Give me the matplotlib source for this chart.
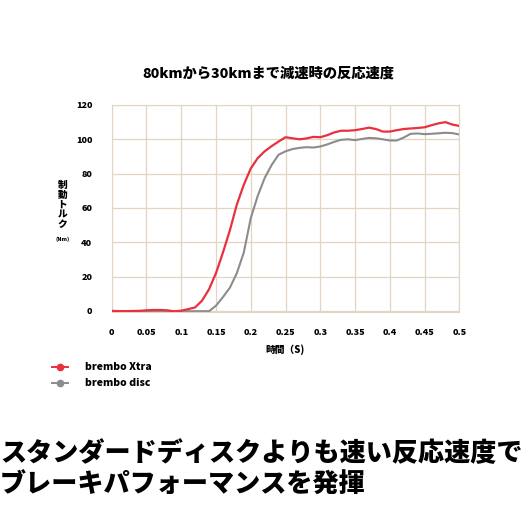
import matplotlib
matplotlib.use('Agg')
import matplotlib.pyplot as plt

plt.rcParams['font.family'] = ['Noto Sans CJK JP', 'DejaVu Sans']

# 時間 (s)
t = [0.0, 0.01, 0.02, 0.03, 0.04, 0.05, 0.06, 0.07, 0.08, 0.09,
     0.10, 0.11, 0.12, 0.13, 0.14, 0.15, 0.16, 0.17, 0.18, 0.19,
     0.20, 0.21, 0.22, 0.23, 0.24, 0.25, 0.26, 0.27, 0.28, 0.29,
     0.30, 0.31, 0.32, 0.33, 0.34, 0.35, 0.36, 0.37, 0.38, 0.39,
     0.40, 0.41, 0.42, 0.43, 0.44, 0.45, 0.46, 0.47, 0.48, 0.49, 0.50]

xtra = [0.0, -0.2, -0.2, -0.1, 0.0, 0.3, 0.5, 0.5, 0.3, -0.3,
        0.1, 1.0, 2.0, 6.0, 12.6, 22.0, 34.0, 47.0, 62.0, 73.5,
        83.0, 89.0, 93.0, 96.0, 98.7, 101.2, 100.6, 100.0, 100.5, 101.4,
        101.2, 102.4, 104.0, 105.0, 105.0, 105.3, 106.0, 106.8, 106.0, 104.5,
        104.5, 105.3, 106.0, 106.3, 106.6, 107.0, 108.2, 109.3, 110.0, 108.6, 107.8]

disc = [-0.3, -0.3, -0.3, -0.3, -0.3, -0.2, -0.2, -0.2, -0.2, -0.3,
        -0.2, -0.2, -0.2, -0.2, -0.2, 3.0, 8.0, 13.5, 22.0, 34.0,
        54.0, 67.0, 77.4, 85.0, 91.0, 93.0, 94.3, 95.0, 95.4, 95.2,
        95.8, 97.0, 98.5, 99.7, 100.0, 99.5, 100.2, 100.8, 100.6, 100.0,
        99.3, 99.3, 101.0, 103.2, 103.4, 103.0, 103.2, 103.5, 103.8, 103.6, 102.8]

xticks = [0, 0.05, 0.1, 0.15, 0.2, 0.25, 0.3, 0.35, 0.4, 0.45, 0.5]
xticklabels = ['0', '0.05', '0.1', '0.15', '0.2', '0.25', '0.3', '0.35', '0.4', '0.45', '0.5']
yticks = [0, 20, 40, 60, 80, 100, 120]

red = '#e8303f'
gray = '#8c8c8c'
grid_c = '#e3d5c0'

fig = plt.figure(figsize=(5.3, 5.3), dpi=100)
ax = fig.add_axes([0.2108, 0.4119, 0.6558, 0.39])

ax.plot(t, xtra, color=red, lw=1.6, zorder=3)
ax.plot(t, disc, color=gray, lw=1.5, zorder=2)

ax.set_xlim(0, 0.5)
ax.set_ylim(-0.5, 120)
ax.set_xticks(xticks)
ax.set_xticklabels(xticklabels)
ax.set_yticks(yticks)
ax.grid(True, color=grid_c, lw=0.9)
for s in ax.spines.values():
    s.set_color(grid_c)
ax.tick_params(length=0, labelsize=6.5, pad=12)
for lab in ax.get_xticklabels() + ax.get_yticklabels():
    lab.set_fontweight('heavy')
ax.tick_params(axis='y', pad=14)

fig.text(0.507, 0.862, '80kmから30kmまで減速時の反応速度', ha='center', va='center',
         fontsize=10.3, fontweight='heavy')
fig.text(0.537, 0.34, '時間（S)', ha='center', va='center', fontsize=7, fontweight='heavy')

# 縦書きの軸ラベル
fig.text(0.118, 0.614, '制\n動\nト\nル\nク', ha='center', va='center', fontsize=7,
         fontweight='heavy', linespacing=0.95)
fig.text(0.118, 0.548, '(Nm)', ha='center', va='center', fontsize=4, fontweight='heavy')

# 凡例
for yy, c, name in [(0.307, red, 'brembo Xtra'), (0.277, gray, 'brembo disc')]:
    fig.add_artist(plt.Line2D([0.098, 0.128], [yy, yy], color=c, lw=1.4))
    fig.add_artist(plt.Line2D([0.113], [yy], marker='o', color=c, ms=4.5))
    fig.text(0.16, yy, name, va='center', fontsize=7.5, fontweight='heavy')

fig.text(0.0, 0.145, 'スタンダードディスクよりも速い反応速度で', va='center',
         fontsize=18.8, fontweight='heavy')
fig.text(0.0, 0.085, 'ブレーキパフォーマンスを発揮', va='center',
         fontsize=18.8, fontweight='heavy')

fig.savefig('out.png', dpi=100)
